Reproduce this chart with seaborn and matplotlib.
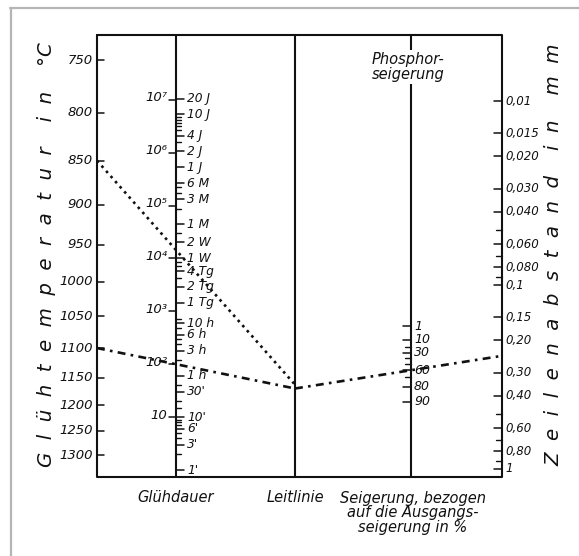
import numpy as np
import pandas as pd
import matplotlib
matplotlib.use("Agg")
import matplotlib.pyplot as plt
import seaborn as sns

# ---------------- data ----------------
temp_ticks = [750, 800, 850, 900, 950, 1000, 1050, 1100, 1150, 1200, 1250, 1300]

time_decades = [1, 2, 3, 4, 5, 6, 7]                      # 10^n minutes
time_decade_labels = ["10", "10²", "10³", "10⁴", "10⁵", "10⁶", "10⁷"]

time_label_values = [20, 10, 4, 2, 1, 6, 3, 1, 2, 1, 4, 2, 1, 10, 6, 3, 1, 30, 10, 6, 3, 1]
time_label_units = ["J", "J", "J", "J", "J", "M", "M", "M", "W", "W", "Tg", "Tg", "Tg",
                    "h", "h", "h", "h", "'", "'", "'", "'", "'"]
time_minor_values = [3, 5, 6, 7, 8, 9, 2, 4, 5, 3, 3, 5, 6, 2, 4, 5, 8, 12, 2, 4, 5, 7, 8, 9, 15, 20, 40]
time_minor_units = ["J", "J", "J", "J", "J", "J", "M", "M", "M", "W", "Tg", "Tg", "Tg",
                    "h", "h", "h", "h", "h", "'", "'", "'", "'", "'", "'", "'", "'", "'"]
unit_minutes = {"J": 525600, "M": 43800, "W": 10080, "Tg": 1440, "h": 60, "'": 1}

spacing_ticks = [0.01, 0.015, 0.02, 0.03, 0.04, 0.06, 0.08, 0.1, 0.15, 0.2, 0.3, 0.4, 0.6, 0.8, 1.0]
spacing_labels = ["0,01", "0,015", "0,020", "0,030", "0,040", "0,060", "0,080", "0,1",
                  "0,15", "0,20", "0,30", "0,40", "0,60", "0,80", "1"]
spacing_minor = [0.05, 0.07, 0.09, 0.5, 0.7, 0.9]

phosphor_ticks = [1, 10, 30, 60, 80, 90]
phosphor_minor = [20, 40, 50, 70]

# worked examples
ex1_temp, ex1_time = 850, 14400          # 850 °C, 10 days
ex2_temp, ex2_time, ex2_seg = 1100, 100, 60

# ---------------- layout & scales ----------------
W, H = 579, 556
X_T, X_t, X_L, X_S, X_R = 97, 176, 295, 411, 502
Y_TOP, Y_BOT = 35, 477


def pos_temp(T):
    return 60 + 115.6 * (1e4 / 1023 - 1e4 / (np.asarray(T, float) + 273))


def pos_time(m):
    return 470 - 52.9 * np.log10(np.asarray(m, float))


def pos_spacing(d):
    return 469 + 184 * np.log10(np.asarray(d, float))


def pos_seg(s):
    s = np.asarray(s, float)
    return 326 + 46.3 * (np.log10(-np.log(0.01)) - np.log10(-np.log(s / 100)))


sns.set_theme(style="white")
plt.rcParams["font.family"] = ["DejaVu Sans"]
plt.rcParams["font.style"] = "italic"

fig = plt.figure(figsize=(W / 100, H / 100), dpi=100)
ax = fig.add_axes([0, 0, 1, 1])

ink = "#111111"
lw_frame = 1.5

# outer gray border (scan frame)
ax.plot([10, W], [8, 8], color="#b5b5b5", lw=1.6)
ax.plot([10.5, 10.5], [8, H], color="#b5b5b5", lw=1.6)

# frame and scale lines
ax.plot([X_T, X_R, X_R, X_T, X_T], [Y_TOP, Y_TOP, Y_BOT, Y_BOT, Y_TOP], color=ink, lw=lw_frame)
for x in (X_t, X_L, X_S):
    ax.plot([x, x], [Y_TOP, Y_BOT], color=ink, lw=lw_frame)

# temperature scale
for T in temp_ticks:
    y = pos_temp(T)
    ax.plot([X_T, X_T + 7], [y, y], color=ink, lw=1.1)
    ax.text(X_T - 4, y, str(T), ha="right", va="center", fontsize=9.5, color=ink)

# time scale: left decades
for n, lab in zip(time_decades, time_decade_labels):
    y = pos_time(10 ** n)
    ax.plot([X_t - 7, X_t], [y, y], color=ink, lw=1.1)
    ax.text(X_t - 9, y - 2, lab, ha="right", va="center", fontsize=9.5, color=ink)

# time scale: right labelled ticks
for v, u in zip(time_label_values, time_label_units):
    y = pos_time(v * unit_minutes[u])
    ax.plot([X_t, X_t + 8], [y, y], color=ink, lw=1.1)
    lab = f"{v} {u}" if u != "'" else f"{v}'"
    ax.text(X_t + 11, y, lab, ha="left", va="center", fontsize=8.8, color=ink)
for v, u in zip(time_minor_values, time_minor_units):
    y = pos_time(v * unit_minutes[u])
    ax.plot([X_t, X_t + 5], [y, y], color=ink, lw=1.0)

# spacing scale (right)
for d, lab in zip(spacing_ticks, spacing_labels):
    y = pos_spacing(d)
    ax.plot([X_R - 8, X_R], [y, y], color=ink, lw=1.1)
    ax.text(X_R + 3, y, lab, ha="left", va="center", fontsize=8.5, color=ink)
for d in spacing_minor:
    y = pos_spacing(d)
    ax.plot([X_R - 6, X_R], [y, y], color=ink, lw=1.0)

# phosphor segregation scale
for s in phosphor_ticks:
    y = pos_seg(s)
    ax.plot([X_S - 8, X_S], [y, y], color=ink, lw=1.1)
    ax.text(X_S + 3, y, str(s), ha="left", va="center", fontsize=9, color=ink)
for s in phosphor_minor:
    y = pos_seg(s)
    ax.plot([X_S - 6, X_S], [y, y], color=ink, lw=1.0)

# ---------------- worked examples ----------------
def extend(x0, y0, x1, y1, x2):
    return y0 + (y1 - y0) * (x2 - x0) / (x1 - x0)

y1T, y1t = float(pos_temp(ex1_temp)), float(pos_time(ex1_time))
y1L = extend(X_T, y1T, X_t, y1t, X_L)
y2T, y2t = float(pos_temp(ex2_temp)), float(pos_time(ex2_time))
y2L = extend(X_T, y2T, X_t, y2t, X_L)
y2S = float(pos_seg(ex2_seg))
y2R = extend(X_L, y2L, X_S, y2S, X_R)

df1 = pd.DataFrame({"x": [X_T, X_t, X_L], "y": [y1T, y1t, y1L]})
df2a = pd.DataFrame({"x": [X_T, X_t, X_L], "y": [y2T, y2t, y2L]})
df2b = pd.DataFrame({"x": [X_L, X_S, X_R], "y": [y2L, y2S, y2R]})
sns.lineplot(data=df1, x="x", y="y", sort=False, ax=ax, color=ink, lw=1.9,
             linestyle=(0, (1, 1.6)))
for d in (df2a, df2b):
    sns.lineplot(data=d, x="x", y="y", sort=False, ax=ax, color=ink, lw=1.9,
                 linestyle=(0, (3, 2, 1, 2)))
ax.set_xlim(0, W)
ax.set_ylim(H, 0)
ax.axis("off")

# ---------------- titles ----------------
ax.text(47, 255, "G  l  ü  h  t  e  m  p  e  r  a  t  u  r    i  n    °C", rotation=90,
        ha="center", va="center", fontsize=14.2, color=ink)
ax.text(554, 255, "Z  e  i  l  e  n  a  b  s  t  a  n  d    i  n    m  m", rotation=90,
        ha="center", va="center", fontsize=14.2, color=ink)

ax.text(X_S - 3, 67, "Phosphor-\nseigerung", ha="center", va="center", fontsize=10.5,
        color=ink, linespacing=1.05,
        bbox=dict(boxstyle="square,pad=0.1", fc="white", ec="none"))

ax.text(X_t, 497, "Glühdauer", ha="center", va="center", fontsize=10.5, color=ink)
ax.text(X_L, 497, "Leitlinie", ha="center", va="center", fontsize=10.5, color=ink)
ax.text(X_S + 2, 513, "Seigerung, bezogen\nauf die Ausgangs-\nseigerung in %", ha="center",
        va="center", fontsize=10.5, color=ink, linespacing=0.95)

fig.savefig("out.png", dpi=100, facecolor="white")
